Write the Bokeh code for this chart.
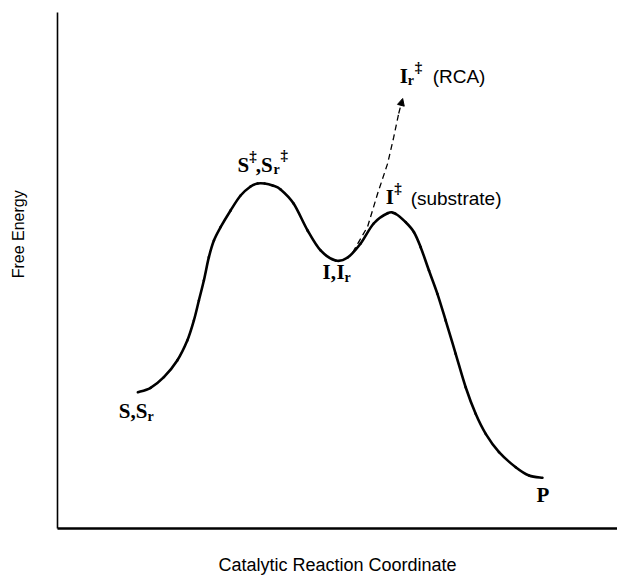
import math
from bokeh.plotting import figure
from bokeh.layouts import row
from bokeh.models import Label, Arrow, NormalHead
from bokeh.embed import file_html
from bokeh.resources import INLINE

# Reaction coordinate (arbitrary units) and free energy (arbitrary units, 0-100)
coord = [14.55, 16.85, 19.26, 21.68, 23.50, 24.69, 25.60, 26.50, 27.41, 28.32,
         29.53, 31.34, 33.15, 34.96, 36.23, 37.50, 38.95, 40.40, 42.75, 45.29,
         47.64, 50.36, 52.54, 54.89, 57.25, 59.78, 61.23, 63.04, 64.55, 65.76,
         67.26, 68.79, 70.29, 72.10, 73.91, 75.72, 77.54, 79.95, 82.97, 85.38, 87.81]
energy = [26.41, 27.27, 29.32, 32.56, 36.43, 40.31, 44.19, 48.06, 52.58, 55.81,
          58.39, 61.63, 64.53, 66.28, 66.86, 66.86, 66.47, 65.70, 62.98, 57.75,
          53.88, 51.94, 52.52, 55.23, 59.11, 61.10, 60.99, 59.36, 57.42, 54.52,
          50.00, 45.48, 40.31, 33.86, 27.38, 22.23, 18.35, 14.79, 11.88, 10.27, 9.83]

# RCA (dashed) branch rising from the intermediate
rca_coord = [53.44, 56.16, 57.97, 59.78, 60.87, 61.78, 62.50]
rca_energy = [53.49, 58.53, 64.92, 70.74, 75.78, 80.43, 83.33]

# narrow strip holding the y-axis title (placed above the axis centre, as in the original)
side = figure(width=40, height=577, x_range=(0, 40), y_range=(0, 577),
              output_backend="svg", toolbar_location=None,
              min_border_left=0, min_border_right=0, min_border_top=0, min_border_bottom=0)
side.axis.visible = False
side.grid.visible = False
side.outline_line_color = None
side.background_fill_color = "white"
side.border_fill_color = "white"
side.add_layout(Label(x=18, y=329, text="Free Energy", angle=math.pi / 2,
                      text_font="Liberation Sans", text_font_size="16px",
                      text_align="center", text_baseline="middle", text_color="black"))

p = figure(width=577, height=577, x_range=(0, 101.4), y_range=(0, 100),
           output_backend="svg", toolbar_location=None,
           min_border_left=17, min_border_right=0, min_border_top=12, min_border_bottom=49)
p.outline_line_color = None
p.grid.visible = False
p.background_fill_color = "white"
p.border_fill_color = "white"

for ax in p.axis:
    ax.major_tick_line_color = None
    ax.minor_tick_line_color = None
    ax.major_tick_out = 0
    ax.major_tick_in = 0
    ax.minor_tick_out = 0
    ax.major_label_standoff = 0
    ax.major_label_text_font_size = "0px"
    ax.major_label_text_color = None
    ax.axis_line_color = "black"
    ax.axis_label_text_font = "Liberation Sans"
    ax.axis_label_text_font_style = "normal"
    ax.axis_label_text_color = "black"

p.xaxis.axis_label = "Catalytic Reaction Coordinate"
p.xaxis.axis_label_text_font_size = "18px"
p.xaxis.axis_label_standoff = 26
p.xaxis.axis_line_width = 2.5

p.yaxis.axis_line_width = 1.6

# smooth rendering of the read points (Catmull-Rom -> cubic Bezier segments)
n = len(coord)
x0, y0, x1, y1, cx0, cy0, cx1, cy1 = [], [], [], [], [], [], [], []
for i in range(n - 1):
    a = max(i - 1, 0)
    d = min(i + 2, n - 1)
    x0.append(coord[i]); y0.append(energy[i])
    x1.append(coord[i + 1]); y1.append(energy[i + 1])
    cx0.append(coord[i] + (coord[i + 1] - coord[a]) / 6)
    cy0.append(energy[i] + (energy[i + 1] - energy[a]) / 6)
    cx1.append(coord[i + 1] - (coord[d] - coord[i]) / 6)
    cy1.append(energy[i + 1] - (energy[d] - energy[i]) / 6)
p.bezier(x0=x0, y0=y0, x1=x1, y1=y1, cx0=cx0, cy0=cy0, cx1=cx1, cy1=cy1,
         line_color="black", line_width=2.6, line_cap="round")

p.line(rca_coord[:-1], rca_energy[:-1], line_color="black", line_width=1.3, line_dash="6 4")
p.add_layout(Arrow(end=NormalHead(size=7, fill_color="black", line_color="black"),
                   x_start=rca_coord[-2], y_start=rca_energy[-2],
                   x_end=rca_coord[-1], y_end=rca_energy[-1],
                   line_color="black", line_width=1.3, line_dash="6 4"))

SERIF = "Liberation Serif"
SANS = "Liberation Sans"
LIFT = 6


def put(ax_, ay_, dx, dy, pieces):
    for text, size, xs, rise, fam, bold in pieces:
        p.add_layout(Label(x=ax_, y=ay_, x_offset=dx + xs, y_offset=-dy + rise + LIFT,
                           text=text, text_font=fam, text_font_size=f"{size}px",
                           text_font_style="bold" if bold else "normal",
                           text_baseline="alphabetic", text_align="left",
                           text_color="black"))


# S,Sr at the start
put(coord[0], energy[0], -19, 25, [
    ("S", 21, 0, 0, SERIF, True), (",", 21, 11.7, 0, SERIF, True),
    ("S", 21, 17, 0, SERIF, True), ("r", 14, 28.7, -5, SERIF, True)])
# S‡,Sr‡ at first peak
put(coord[14], energy[14], -20, -13, [
    ("S", 21, 0, 0, SERIF, True), ("‡", 15, 11.7, 9, SERIF, True),
    (",", 21, 18.2, 0, SERIF, True), ("S", 21, 23.5, 0, SERIF, True),
    ("r", 14, 36, -5, SERIF, True), ("‡", 15, 43, 10, SERIF, True)])
# I,Ir at the intermediate
put(coord[21], energy[21], -13, 18, [
    ("I", 21, 0, 0, SERIF, True), (",", 21, 8.2, 0, SERIF, True),
    ("I", 21, 13.8, 0, SERIF, True), ("r", 14, 21.8, -5, SERIF, True)])
# I‡ (substrate) at second peak
put(coord[25], energy[25], -2, -10, [
    ("I", 21, 0, 0, SERIF, True), ("‡", 15, 8.5, 9, SERIF, True),
    ("(substrate)", 19, 25, -1, SANS, False)])
# Ir‡ (RCA) at arrow tip
put(rca_coord[-1], rca_energy[-1], -3, -17, [
    ("I", 21, 0, 0, SERIF, True), ("r", 14, 8.2, -5, SERIF, True),
    ("‡", 15, 15, 9, SERIF, True), ("(RCA)", 19, 33, -1, SANS, False)])
# P at the end
put(coord[-1], energy[-1], -6, 23, [("P", 21, 0, 0, SERIF, True)])

layout = row(side, p, spacing=0)
open("out.html", "w").write(file_html(layout, INLINE))
